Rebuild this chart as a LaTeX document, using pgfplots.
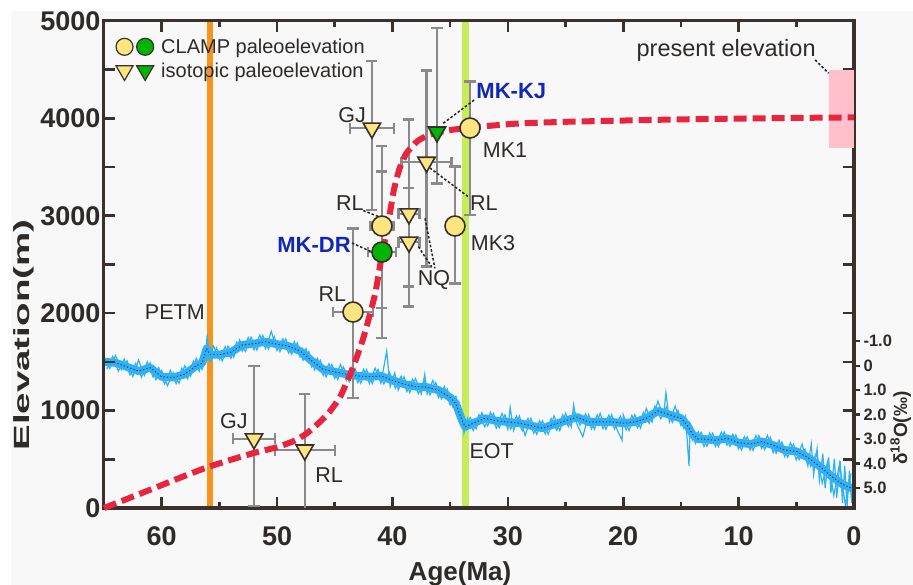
\documentclass[border=0pt]{standalone}
\usepackage{fontspec}
\setmainfont{Liberation Sans}
\usepackage{pgfplots}
\pgfplotsset{compat=1.18}
\usepackage{graphicx}
\definecolor{axcol}{HTML}{3A312D}
\definecolor{bgcol}{HTML}{F8F8F8}
\definecolor{txtcol}{HTML}{2E2A28}
\definecolor{redc}{HTML}{E8253F}
\definecolor{cyel}{HTML}{FFE580}
\definecolor{cgrn}{HTML}{00B400}
\definecolor{mkdraw}{HTML}{35302C}
\definecolor{errgray}{HTML}{8A8A8A}
\definecolor{orangebar}{HTML}{F7941D}
\definecolor{limebar}{HTML}{C8EB5A}
\definecolor{pinkc}{HTML}{FFBFCB}
\definecolor{bandblue}{HTML}{30B2F2}
\definecolor{navyc}{HTML}{1A1F8C}
\definecolor{lblblue}{HTML}{1226B8}
\newcommand\tickfont{\fontsize{27bp}{30bp}\selectfont\bfseries}
\newcommand\annfont{\fontsize{21.5bp}{24bp}\selectfont}
\newcommand\blufont{\fontsize{22bp}{24bp}\selectfont\bfseries}
\tikzset{anndash/.style={draw=black!85, line width=1.5bp, dash pattern=on 2.5bp off 2bp}}
\begin{document}
\begin{tikzpicture}
\fill[bgcol] (11bp,0bp) rectangle (913bp,574bp);
% ---------- delta18O axis (drawn first, behind) ----------
\begin{axis}[
  at={(104bp,77bp)}, anchor=south west,
  width=750bp, height=487bp, scale only axis,
  xmin=0, xmax=65, x dir=reverse,
  ymin=-14.09, ymax=5.816, y dir=reverse,
  hide x axis,
  axis y line*=right,
  y axis line style={draw=none},
  ytick={-1,0,1,2,3,4,5},
  yticklabels={-1.0,0,1.0,2.0,3.0,4.0,5.0},
  tick align=outside,
  major tick length=6bp,
  ytick style={draw=axcol, line width=2.4bp},
  yticklabel style={font=\fontsize{16.5bp}{18bp}\selectfont\bfseries, text=txtcol},
]
\addplot[orangebar, line width=6bp] coordinates {(55.8,-14.09) (55.8,5.816)};
\addplot[limebar, line width=7bp] coordinates {(33.7,-14.09) (33.7,5.816)};
\addplot[bandblue, line width=8bp, line join=round] coordinates {
(65,-0.16)(64,-0.12)(63,0.05)(62,0.22)(61,0.08)(60,0.45)(59,0.48)(58,0.35)(57,0.0)(56.5,-0.1)(56.1,-0.7)(55.8,-0.45)(55,-0.45)(54,-0.55)(53,-0.85)(52,-0.9)(51,-0.98)(50,-0.88)(49,-0.8)(48,-0.6)(47,-0.2)(46,0.15)(45,0.25)(44,0.35)(43,0.42)(42,0.45)(41,0.42)(40,0.6)(39,0.75)(38,0.85)(37,0.88)(36,1.0)(35,1.3)(34.5,1.55)(34,2.2)(33.7,2.5)(33,2.35)(32,2.15)(31,2.25)(30,2.3)(29,2.35)(28,2.45)(27,2.55)(26,2.4)(25,2.25)(24,2.1)(23,2.3)(22,2.29)(21,2.3)(20,2.35)(19,2.3)(18,2.15)(17,1.85)(16,2.0)(15,2.15)(14.5,2.4)(14,2.8)(13.5,3.0)(13,3.0)(12,3.05)(11,2.97)(10,3.15)(9,3.2)(8,3.1)(7,3.25)(6,3.45)(5,3.5)(4,3.75)(3,4.1)(2,4.5)(1,4.85)(0,5.05)};
\addplot[bandblue, line width=1.2bp] coordinates {
(65.0,-0.36)(64.5,0.11)(64.0,-0.42)(63.5,0.16)(63.0,-0.20)(62.5,0.44)(62.0,-0.23)(61.5,0.40)(61.0,-0.12)(60.5,0.57)(60.0,0.20)(59.5,0.82)(59.0,0.28)(58.5,0.72)(58.0,0.00)(57.5,0.43)(57.0,-0.30)(56.5,0.15)(56.2,-0.35)(56.05,-1.30)(55.9,-0.35)(55.5,-0.80)(55.0,-0.25)(54.5,-0.78)(54.0,-0.30)(53.5,-0.95)(53.0,-0.60)(52.5,-1.15)(52.0,-0.65)(51.5,-1.25)(51.0,-0.70)(50.5,-1.40)(50.0,-0.62)(49.5,-1.10)(49.0,-0.52)(48.5,-0.98)(48.0,-0.35)(47.5,-0.70)(47.0,0.05)(46.5,-0.30)(46.0,0.40)(45.5,-0.08)(45.0,0.52)(44.5,-0.05)(44.0,0.60)(43.5,0.05)(43.0,0.70)(42.5,0.15)(42.0,0.72)(41.5,0.10)(41.0,0.72)(40.5,-0.60)(40.2,0.85)(39.8,0.30)(39.5,1.00)(39.0,0.45)(38.5,1.10)(38.0,0.52)(37.5,1.15)(37.2,0.35)(37.0,1.15)(36.5,0.60)(36.0,1.30)(35.5,0.85)(35.0,1.60)(34.5,1.25)(34.2,1.95)(34.0,1.80)(33.8,2.75)(33.5,2.15)(33.0,2.65)(32.5,2.00)(32.0,2.50)(31.5,1.90)(31.0,2.55)(30.5,1.95)(30.0,2.60)(29.8,1.70)(29.5,2.65)(29.0,2.05)(28.5,2.85)(28.0,2.15)(27.5,2.80)(27.0,2.25)(26.5,2.80)(26.0,2.05)(25.5,2.65)(25.0,1.95)(24.5,2.50)(24.3,1.60)(24.0,2.40)(23.5,2.90)(23.0,2.00)(22.5,2.60)(22.0,1.95)(21.5,2.60)(21.0,2.00)(20.5,2.65)(20.1,3.05)(20.0,2.00)(19.5,2.65)(19.0,2.00)(18.5,2.55)(18.0,1.75)(17.5,2.30)(17.0,1.45)(16.5,2.05)(16.3,1.10)(16.0,2.30)(15.5,1.65)(15.0,2.45)(14.6,2.05)(14.3,4.10)(14.2,2.40)(14.0,3.05)(13.5,2.70)(13.0,3.30)(12.5,2.75)(12.0,3.30)(11.5,2.72)(11.0,3.25)(10.5,2.80)(10.0,3.40)(9.5,2.90)(9.0,3.45)(8.5,2.85)(8.0,3.38)(7.5,2.85)(7.0,3.55)(6.5,3.05)(6.0,3.72)(5.5,3.15)(5.0,3.85)(4.5,3.20)(4.0,4.10)(3.7,3.20)(3.5,4.45)(3.2,3.40)(3.0,4.70)(2.7,3.60)(2.5,5.00)(2.2,3.75)(2.0,5.20)(1.7,3.80)(1.5,5.40)(1.2,3.90)(1.0,5.60)(0.8,4.10)(0.6,5.75)(0.4,4.30)(0.2,5.60)(0.0,4.60)};
\addplot[bandblue, line width=1.2bp] coordinates {
(64.75,0.13)(64.25,-0.38)(63.75,0.22)(63.25,-0.27)(62.75,0.37)(62.25,-0.10)(61.75,0.47)(61.25,-0.16)(60.75,0.46)(60.25,0.08)(59.75,0.74)(59.25,0.19)(58.75,0.73)(58.25,0.10)(57.75,0.54)(57.25,-0.19)(56.75,0.23)(56.35,-0.50)(55.75,-0.17)(55.25,-0.73)(54.75,-0.20)(54.25,-0.80)(53.75,-0.35)(53.25,-1.06)(52.75,-0.58)(52.25,-1.17)(51.75,-0.64)(51.25,-1.24)(50.75,-0.68)(50.25,-1.19)(49.75,-0.58)(49.25,-1.10)(48.75,-0.47)(48.25,-0.93)(47.75,-0.22)(47.25,-0.58)(46.75,0.17)(46.25,-0.22)(45.75,0.46)(45.25,-0.05)(44.75,0.56)(44.25,0.05)(43.75,0.65)(43.25,0.12)(42.75,0.71)(42.25,0.16)(41.75,0.73)(41.25,0.15)(40.75,0.74)(40.25,0.27)(39.75,0.92)(39.25,0.43)(38.75,1.06)(38.25,0.55)(37.75,1.14)(37.25,0.60)(36.75,1.19)(36.25,0.69)(35.75,1.36)(35.25,0.95)(34.75,1.71)(34.25,1.60)(33.85,2.60)(33.25,2.12)(32.75,2.58)(32.25,1.92)(31.75,2.46)(31.25,1.95)(30.75,2.54)(30.25,2.01)(29.75,2.59)(29.25,2.06)(28.75,2.66)(28.25,2.15)(27.75,2.76)(27.25,2.25)(26.75,2.79)(26.25,2.16)(25.75,2.64)(25.25,2.01)(24.75,2.49)(24.25,1.86)(23.75,2.43)(23.25,1.97)(22.75,2.58)(22.25,2.01)(21.75,2.57)(21.25,2.02)(20.75,2.59)(20.25,2.06)(19.75,2.62)(19.25,2.03)(18.75,2.54)(18.25,1.91)(17.75,2.36)(17.25,1.65)(16.75,2.17)(16.25,1.68)(15.75,2.32)(15.25,1.83)(14.75,2.56)(14.25,2.32)(13.75,3.18)(13.25,2.72)(12.75,3.29)(12.25,2.76)(11.75,3.31)(11.25,2.71)(10.75,3.30)(10.25,2.83)(9.75,3.44)(9.25,2.91)(8.75,3.46)(8.25,2.85)(7.75,3.42)(7.25,2.93)(6.75,3.58)(6.25,3.12)(5.75,3.74)(5.25,3.21)(4.75,3.84)(4.25,3.41)(3.75,4.12)(3.25,3.55)(2.75,4.80)(2.25,3.85)(1.75,5.30)(1.25,4.00)(0.75,5.70)(0.25,4.40)};
\addplot[navyc, line width=0.9bp, dash pattern=on 1.2bp off 2.2bp] coordinates {
(65,-0.16)(64,-0.12)(63,0.05)(62,0.22)(61,0.08)(60,0.45)(59,0.48)(58,0.35)(57,0.0)(56.5,-0.1)(56.1,-0.7)(55.8,-0.45)(55,-0.45)(54,-0.55)(53,-0.85)(52,-0.9)(51,-0.98)(50,-0.88)(49,-0.8)(48,-0.6)(47,-0.2)(46,0.15)(45,0.25)(44,0.35)(43,0.42)(42,0.45)(41,0.42)(40,0.6)(39,0.75)(38,0.85)(37,0.88)(36,1.0)(35,1.3)(34.5,1.55)(34,2.2)(33.7,2.5)(33,2.35)(32,2.15)(31,2.25)(30,2.3)(29,2.35)(28,2.45)(27,2.55)(26,2.4)(25,2.25)(24,2.1)(23,2.3)(22,2.29)(21,2.3)(20,2.35)(19,2.3)(18,2.15)(17,1.85)(16,2.0)(15,2.15)(14.5,2.4)(14,2.8)(13.5,3.0)(13,3.0)(12,3.05)(11,2.97)(10,3.15)(9,3.2)(8,3.1)(7,3.25)(6,3.45)(5,3.5)(4,3.75)(3,4.1)(2,4.5)(1,4.85)(0,5.05)};
\end{axis}
% ---------- elevation axis (front) ----------
\begin{axis}[
  at={(104bp,77bp)}, anchor=south west,
  width=750bp, height=487bp, scale only axis,
  xmin=0, xmax=65, x dir=reverse,
  ymin=0, ymax=5000,
  clip=false,
  unbounded coords=jump,
  axis line style={draw=axcol, line width=3bp},
  tick style={draw=axcol, line width=2.6bp},
  tick align=inside,
  major tick length=11bp, minor tick length=6bp,
  xtick={0,10,...,60}, xticklabels={0,10,20,30,40,50,60},
  minor xtick={5,15,...,55},
  ytick={0,500,...,5000}, yticklabels={0,{},1000,{},2000,{},3000,{},4000,{},5000},
  xticklabel pos=lower, yticklabel pos=left,
  tick label style={font=\tickfont, text=txtcol},
  xticklabel style={yshift=-15bp},
  legend style={at={(0.011,0.972)}, anchor=north west, draw=none, fill=none,
    font=\fontsize{20bp}{22bp}\selectfont, text=txtcol, row sep=4bp,
    /tikz/every odd column/.append style={column sep=5bp}},
  legend cell align=left,
]
\addlegendimage{legend image code/.code={
  \draw[draw=mkdraw, line width=1.2bp, fill=cyel] (0bp,0bp) circle (8.5bp);
  \draw[draw=mkdraw, line width=1.2bp, fill=cgrn] (20.6bp,0bp) circle (8.5bp);}}
\addlegendentry{CLAMP paleoelevation}
\addlegendimage{legend image code/.code={
  \draw[draw=mkdraw, line width=1.2bp, fill=cyel] (-8.5bp,5bp) -- (8.5bp,5bp) -- (0bp,-9.7bp) -- cycle;
  \draw[draw=mkdraw, line width=1.2bp, fill=cgrn] (12.1bp,5bp) -- (29.1bp,5bp) -- (20.6bp,-9.7bp) -- cycle;}}
\addlegendentry{isotopic paleoelevation}
% present elevation range
\addplot[fill=pinkc, draw=none, forget plot] coordinates {(2.2,3700)(0,3700)(0,4500)(2.2,4500)};
% error bars: vertical bars with caps
\addplot[errgray, line width=2.5bp, forget plot] coordinates {
(41.78,3060)(41.78,4590)(nan,nan)(42.26,4590)(41.30,4590)(nan,nan)(42.26,3060)(41.30,3060)(nan,nan)
(40.91,2053)(40.91,3717)(nan,nan)(41.39,3717)(40.43,3717)(nan,nan)(41.39,2053)(40.43,2053)(nan,nan)
(40.91,1745)(40.91,3453)(nan,nan)(41.39,3453)(40.43,3453)(nan,nan)(41.39,1745)(40.43,1745)(nan,nan)
(38.57,2272)(38.57,3990)(nan,nan)(39.05,3990)(38.09,3990)(nan,nan)(39.05,2272)(38.09,2272)(nan,nan)
(38.57,2067)(38.57,3285)(nan,nan)(39.05,3285)(38.09,3285)(nan,nan)(39.05,2067)(38.09,2067)(nan,nan)
(37.05,2478)(37.05,4490)(nan,nan)(37.53,4490)(36.57,4490)(nan,nan)(37.53,2478)(36.57,2478)(nan,nan)
(43.42,1130)(43.42,2870)(nan,nan)(43.90,2870)(42.94,2870)(nan,nan)(43.90,1130)(42.94,1130)(nan,nan)
(52.0,20)(52.0,1460)(nan,nan)(52.48,1460)(51.52,1460)(nan,nan)(52.48,20)(51.52,20)(nan,nan)
(47.6,0)(47.6,1170)(nan,nan)(48.08,1170)(47.12,1170)(nan,nan)
(36.14,3333)(36.14,4930)(nan,nan)(36.62,4930)(35.66,4930)(nan,nan)(36.62,3333)(35.66,3333)(nan,nan)
(34.58,2307)(34.58,3505)(nan,nan)(35.06,3505)(34.10,3505)(nan,nan)(35.06,2307)(34.10,2307)(nan,nan)
(33.28,3008)(33.28,4380)(nan,nan)(33.76,4380)(32.80,4380)(nan,nan)(33.76,3008)(32.80,3008)};
% error bars: horizontal bars with caps
\addplot[errgray, line width=2.5bp, forget plot] coordinates {
(43.68,3900)(39.88,3900)(nan,nan)(43.68,3844)(43.68,3956)(nan,nan)(39.88,3844)(39.88,3956)(nan,nan)
(41.91,2895)(39.91,2895)(nan,nan)(41.91,2839)(41.91,2951)(nan,nan)(39.91,2839)(39.91,2951)(nan,nan)
(42.11,2628)(39.71,2628)(nan,nan)(42.11,2572)(42.11,2684)(nan,nan)(39.71,2572)(39.71,2684)(nan,nan)
(39.47,3020)(37.67,3020)(nan,nan)(39.47,2964)(39.47,3076)(nan,nan)(37.67,2964)(37.67,3076)(nan,nan)
(39.47,2730)(37.67,2730)(nan,nan)(39.47,2674)(39.47,2786)(nan,nan)(37.67,2674)(37.67,2786)(nan,nan)
(39.20,3550)(34.90,3550)(nan,nan)(39.20,3494)(39.20,3606)(nan,nan)(34.90,3494)(34.90,3606)(nan,nan)
(45.17,2012)(41.67,2012)(nan,nan)(45.17,1956)(45.17,2068)(nan,nan)(41.67,1956)(41.67,2068)(nan,nan)
(53.80,710)(50.20,710)(nan,nan)(53.80,654)(53.80,766)(nan,nan)(50.20,654)(50.20,766)(nan,nan)
(50.20,595)(45.00,595)(nan,nan)(50.20,539)(50.20,651)(nan,nan)(45.00,539)(45.00,651)};
% red elevation curve
\addplot[redc, line width=6bp, dash pattern=on 13bp off 6bp, smooth, tension=0.4, forget plot] coordinates {
(65,0)(62,140)(60,235)(58,330)(56,420)(54,495)(52,565)(50,625)(48.5,690)(47.5,760)(46.5,860)(45.5,980)(44.5,1150)(43.5,1420)(42.7,1680)(42.2,1880)(41.5,2200)(41,2540)(40.4,2900)(39.9,3250)(39.4,3480)(38.8,3640)(37.8,3770)(36.8,3830)(36.1,3855)(35,3880)(33.3,3905)(31,3930)(29,3948)(25,3965)(20,3978)(15,3990)(10,3998)(5,4005)(0,4010)};
% CLAMP markers
\addplot[only marks, mark=*, mark size=10bp, mark options={draw=mkdraw, fill=cyel, line width=1.6bp}, forget plot]
  coordinates {(40.91,2895)(34.58,2895)(33.28,3901)(43.42,2012)};
\addplot[only marks, mark=*, mark size=10bp, mark options={draw=mkdraw, fill=cgrn, line width=1.6bp}, forget plot]
  coordinates {(40.91,2628)};
% isotopic markers
\addplot[only marks, mark=triangle*, mark size=10bp, mark options={rotate=180, draw=mkdraw, fill=cyel, line width=1.6bp}, forget plot]
  coordinates {(41.78,3900)(38.57,3020)(38.57,2730)(37.05,3550)(52.0,710)(47.6,595)};
\addplot[only marks, mark=triangle*, mark size=10bp, mark options={rotate=180, draw=mkdraw, fill=cgrn, line width=1.6bp}, forget plot]
  coordinates {(36.14,3860)};
% leader lines
\draw[anndash] (axis cs:42.53,3054) -- (axis cs:41.23,2993);
\draw[anndash] (axis cs:43.51,2721) -- (axis cs:41.78,2628);
\draw[anndash] (axis cs:37.18,2974) -- (axis cs:36.32,2461);
\draw[anndash] (axis cs:37.76,2683) -- (axis cs:36.60,2477);
\draw[anndash] (axis cs:36.75,3491) -- (axis cs:33.43,3196);
\draw[anndash] (axis cs:35.59,3950) -- (axis cs:32.84,4196);
\draw[anndash] (axis cs:3.36,4600) -- (axis cs:2.2,4463);
% labels
\node[font=\annfont, text=txtcol] at (axis cs:43.5,4035) {GJ};
\node[font=\annfont, text=txtcol] at (axis cs:43.7,3131) {RL};
\node[font=\blufont, text=lblblue] at (axis cs:46.8,2700) {MK-DR};
\node[font=\annfont, text=txtcol] at (axis cs:45.2,2197) {RL};
\node[font=\annfont, text=txtcol] at (axis cs:36.4,2341) {NQ};
\node[font=\annfont, text=txtcol] at (axis cs:32.07,3131) {RL};
\node[font=\annfont, text=txtcol] at (axis cs:31.28,2720) {MK3};
\node[font=\annfont, text=txtcol] at (axis cs:30.24,3676) {MK1};
\node[font=\blufont, text=lblblue] at (axis cs:29.7,4281) {MK-KJ};
\node[font=\annfont, text=txtcol] at (axis cs:53.75,893) {GJ};
\node[font=\annfont, text=txtcol] at (axis cs:45.5,339) {RL};
\node[font=\annfont, text=txtcol] at (axis cs:58.86,2012) {PETM};
\node[font=\annfont, text=txtcol] at (axis cs:31.4,587) {EOT};
\node[font=\fontsize{23.5bp}{26bp}\selectfont, text=txtcol] at (axis cs:11.08,4702) {present elevation};
% axis labels
\node[rotate=90, anchor=base, font=\fontsize{22bp}{24bp}\selectfont\bfseries, text=txtcol] at (rel axis cs:-0.0996,0.355) {\scalebox{1.75}[1]{Elevation(m)}};
\node[anchor=base, font=\fontsize{26bp}{28bp}\selectfont\bfseries, text=txtcol] at (rel axis cs:0.4747,-0.148) {Age(Ma)};
\node[rotate=90, anchor=base, font=\fontsize{19bp}{21bp}\selectfont\bfseries, text=txtcol] at (rel axis cs:1.0707,0.164) {δ\textsuperscript{18}O(‰)};
\end{axis}
\pgfresetboundingbox
\useasboundingbox (0bp,0bp) rectangle (913bp,585bp);
\end{tikzpicture}
\end{document}
